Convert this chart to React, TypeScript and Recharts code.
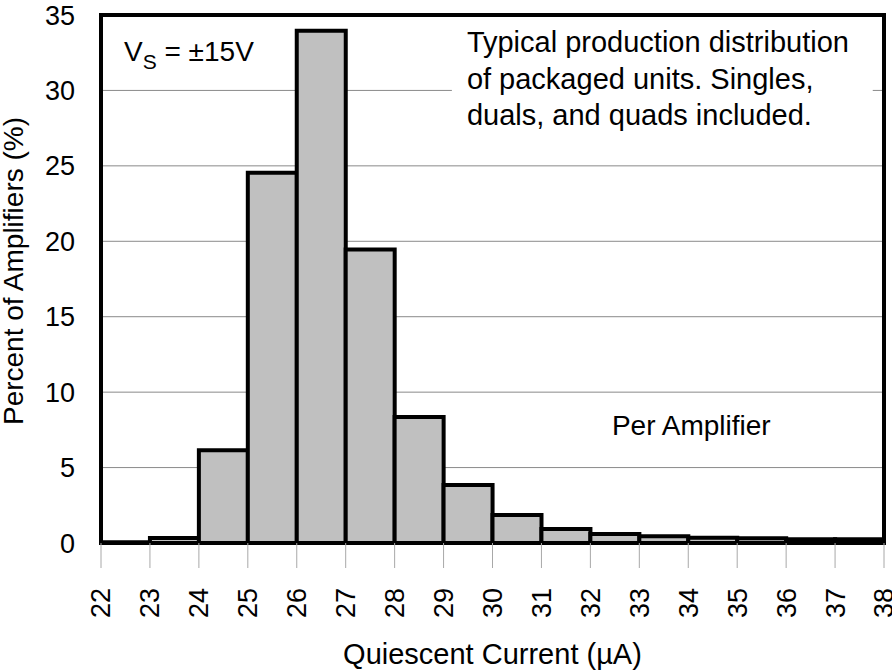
import React from "react";
import {
  BarChart,
  Bar,
  XAxis,
  YAxis,
  CartesianGrid,
  ReferenceArea,
  ReferenceDot,
} from "recharts";

const binStarts = [22, 23, 24, 25, 26, 27, 28, 29, 30, 31, 32, 33, 34, 35, 36, 37];
const percents = [0.05, 0.33, 6.15, 24.55, 33.95, 19.45, 8.35, 3.85, 1.85, 0.92, 0.6, 0.44, 0.35, 0.32, 0.25, 0.25];
const xTicks = [22, 23, 24, 25, 26, 27, 28, 29, 30, 31, 32, 33, 34, 35, 36, 37, 38];
const yTicks = [0, 5, 10, 15, 20, 25, 30, 35];
const noteLines = [
  "Typical production distribution",
  "of packaged units. Singles,",
  "duals, and quads included.",
];

const data = binStarts.map((s, i) => ({ mid: s + 0.5, pct: percents[i] }));

const FONT = "'Liberation Sans', Arial, Helvetica, sans-serif";

const XTick = (props: any) => {
  const { x, y, payload } = props;
  return (
    <text
      x={x}
      y={y}
      transform={`rotate(-90, ${x}, ${y})`}
      textAnchor="end"
      dy="0.35em"
      fontSize={27}
      fontFamily={FONT}
      fill="#000"
    >
      {payload.value}
    </text>
  );
};

const NoteLabel = (props: any) => {
  const vb = props.viewBox || {};
  const x0 = vb.x + 15;
  const y0 = vb.y;
  return (
    <g>
      {noteLines.map((t, i) => (
        <text key={i} x={x0} y={y0 + 32.5 + i * 36.5} fontSize={29} fontFamily={FONT} fill="#000">
          {t}
        </text>
      ))}
    </g>
  );
};

const VsLabel = (props: any) => {
  const vb = props.viewBox || {};
  const x = vb.x + (vb.width || 0) / 2;
  const y = vb.y + (vb.height || 0) / 2;
  return (
    <text x={x} y={y} fontSize={28} fontFamily={FONT} fill="#000">
      V
      <tspan fontSize={21} dy={8}>S</tspan>
      <tspan fontSize={28} dy={-8}> = ±15V</tspan>
    </text>
  );
};

const PerAmpLabel = (props: any) => {
  const vb = props.viewBox || {};
  const x = vb.x + (vb.width || 0) / 2;
  const y = vb.y + (vb.height || 0) / 2;
  return (
    <text x={x} y={y} fontSize={28} fontFamily={FONT} fill="#000">
      Per Amplifier
    </text>
  );
};

const XLabel = (props: any) => {
  const vb = props.viewBox || {};
  const cx = vb.x + vb.width / 2;
  return (
    <text x={cx} y={664} textAnchor="middle" fontSize={29} fontFamily={FONT} fill="#000">
      Quiescent Current (µA)
    </text>
  );
};

const YLabel = () => (
  <text
    x={23}
    y={271}
    transform="rotate(-90, 23, 271)"
    textAnchor="middle"
    fontSize={28}
    fontFamily={FONT}
    fill="#000"
  >
    Percent of Amplifiers (%)
  </text>
);

export default function App() {
  return (
    <div style={{ position: "absolute", left: 0, top: 0, width: 892, height: 672, background: "#fff" }}>
      <BarChart
        width={892}
        height={672}
        data={data}
        margin={{ top: 15, right: 8, left: 0, bottom: 0 }}
        barCategoryGap={0}
        barGap={0}
      >
        <CartesianGrid horizontal={true} vertical={false} stroke="#8a8a8a" strokeWidth={1} />
        <XAxis
          type="number"
          dataKey="mid"
          domain={[22, 38]}
          ticks={xTicks}
          interval={0}
          height={129}
          axisLine={false}
          tickLine={{ stroke: "#a8a8a8", strokeWidth: 1 }}
          tickSize={25}
          tickMargin={20}
          tick={<XTick />}
          label={<XLabel />}
          allowDataOverflow
        />
        <YAxis
          type="number"
          domain={[0, 35]}
          ticks={yTicks}
          interval={0}
          width={101}
          axisLine={false}
          tickLine={false}
          tickSize={0}
          tickMargin={26}
          tick={{ fontSize: 27, fontFamily: FONT, fill: "#000" }}
          label={<YLabel />}
        />
        <ReferenceArea
          x1={29.17}
          x2={37.77}
          y1={26}
          y2={34.7}
          fill="#fff"
          fillOpacity={1}
          stroke="none"
          label={<NoteLabel />}
        />
        <Bar
          dataKey="pct"
          fill="#c0c0c0"
          stroke="#000"
          strokeWidth={4}
          isAnimationActive={false}
        />
        <ReferenceDot x={22.47} y={31.98} r={1} fill="none" stroke="none" label={<VsLabel />} />
        <ReferenceDot x={32.44} y={7.16} r={1} fill="none" stroke="none" label={<PerAmpLabel />} />
        <ReferenceArea
          x1={22}
          x2={38}
          y1={0}
          y2={35}
          fill="none"
          stroke="#000"
          strokeWidth={4}
        />
      </BarChart>
    </div>
  );
}
